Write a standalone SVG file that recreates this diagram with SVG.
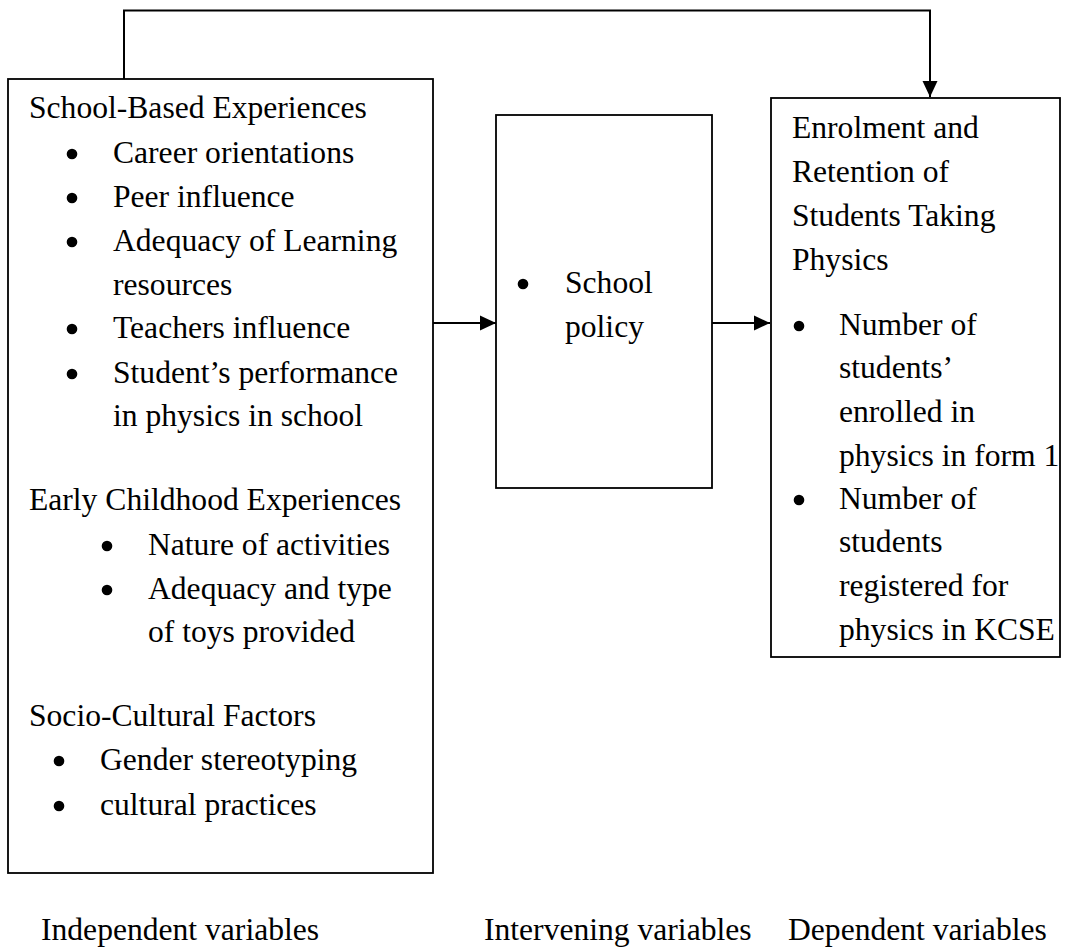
<svg xmlns="http://www.w3.org/2000/svg" width="1075" height="948" viewBox="0 0 1075 948">
  <style>
    text { font-family: "Liberation Serif", "Times New Roman", serif; font-size: 31.6px; fill: #000; }
    .box { fill: #fff; stroke: #000; stroke-width: 1.8; }
    .link { fill: none; stroke: #000; stroke-width: 2; }
    .dot { fill: #000; }
  </style>
  <defs>
    <marker id="arrow" markerWidth="16" markerHeight="16" refX="16" refY="8" orient="auto" markerUnits="userSpaceOnUse">
      <path d="M0,0.5 L16,8 L0,15.5 Z" fill="#000"/>
    </marker>
    <circle id="bullet" r="5.3" class="dot"/>
  </defs>

  <rect width="1075" height="948" fill="#fff"/>

  <!-- connectors -->
  <g id="connectors">
    <path class="link" d="M124,79 V10.5 H930 V97" marker-end="url(#arrow)"/>
    <path class="link" d="M433,323 H496" marker-end="url(#arrow)"/>
    <path class="link" d="M712,323 H770" marker-end="url(#arrow)"/>
  </g>

  <!-- independent variables -->
  <g id="independent">
    <rect class="box" x="8" y="79" width="425" height="794"/>
    <text x="29" y="118">School-Based Experiences</text>
    <use href="#bullet" x="72" y="154"/>
    <text x="113" y="163">Career orientations</text>
    <use href="#bullet" x="72" y="198"/>
    <text x="113" y="207">Peer influence</text>
    <use href="#bullet" x="72" y="242"/>
    <text x="113" y="251">Adequacy of Learning</text>
    <text x="113" y="295">resources</text>
    <use href="#bullet" x="72" y="329"/>
    <text x="113" y="338">Teachers influence</text>
    <use href="#bullet" x="72" y="374"/>
    <text x="113" y="383">Student’s performance</text>
    <text x="113" y="426">in physics in school</text>

    <text x="29" y="510">Early Childhood Experiences</text>
    <use href="#bullet" x="107" y="546"/>
    <text x="148" y="555">Nature of activities</text>
    <use href="#bullet" x="107" y="590"/>
    <text x="148" y="599">Adequacy and type</text>
    <text x="148" y="642">of toys provided</text>

    <text x="29" y="726">Socio-Cultural Factors</text>
    <use href="#bullet" x="59" y="761"/>
    <text x="100" y="770">Gender stereotyping</text>
    <use href="#bullet" x="59" y="806"/>
    <text x="100" y="815">cultural practices</text>
  </g>

  <!-- intervening variables -->
  <g id="intervening">
    <rect class="box" x="496" y="115" width="216" height="373"/>
    <use href="#bullet" x="523" y="284"/>
    <text x="565" y="293">School</text>
    <text x="565" y="337">policy</text>
  </g>

  <!-- dependent variables -->
  <g id="dependent">
    <rect class="box" x="771" y="98" width="289" height="559"/>
    <text x="792" y="138">Enrolment and</text>
    <text x="792" y="182">Retention of</text>
    <text x="792" y="226">Students Taking</text>
    <text x="792" y="270">Physics</text>
    <use href="#bullet" x="799" y="326"/>
    <text x="839" y="335">Number of</text>
    <text x="839" y="378">students’</text>
    <text x="839" y="422">enrolled in</text>
    <text x="839" y="466">physics in form 1</text>
    <use href="#bullet" x="799" y="500"/>
    <text x="839" y="509">Number of</text>
    <text x="839" y="552">students</text>
    <text x="839" y="596">registered for</text>
    <text x="839" y="640">physics in KCSE</text>
  </g>

  <!-- column captions -->
  <g id="captions">
    <text x="41" y="940">Independent variables</text>
    <text x="484" y="940">Intervening variables</text>
    <text x="788" y="940">Dependent variables</text>
  </g>
</svg>
